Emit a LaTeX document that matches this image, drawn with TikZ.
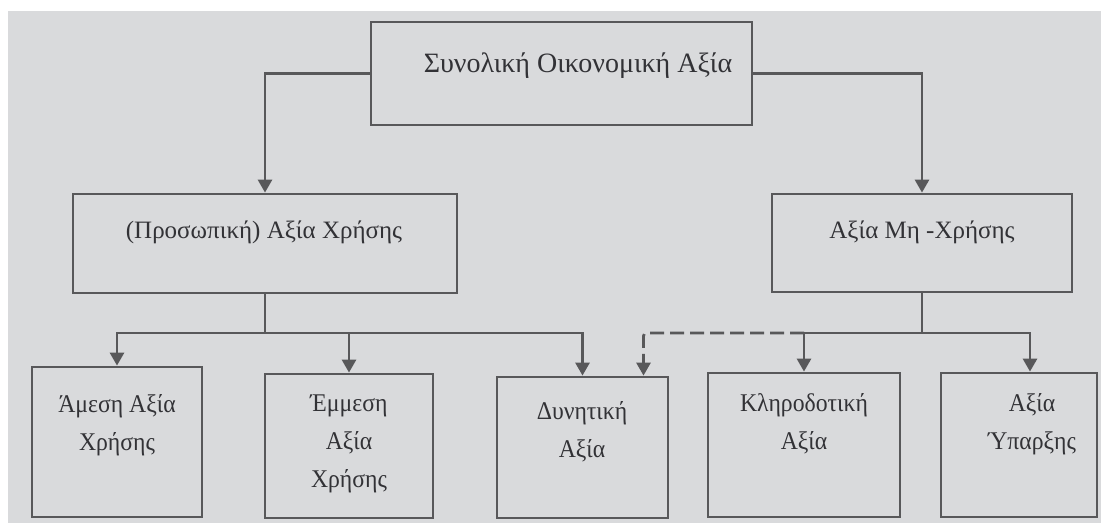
\documentclass[tikz,border=0pt]{standalone}
\usepackage{fontspec}
\setmainfont{Liberation Serif}
\newfontfamily\narrowserif[FakeStretch=0.93]{Liberation Serif}
\usetikzlibrary{arrows.meta}
\definecolor{paper}{RGB}{217,218,220}
\definecolor{ink}{RGB}{88,88,90}
\definecolor{txt}{RGB}{50,50,54}

\begin{document}
\begin{tikzpicture}[x=1pt,y=-1pt,
  box/.style={draw=ink,line width=2.8pt,inner sep=0pt},
  lbl/.style={text=txt,align=center,font=\fontsize{25}{38}\selectfont},
  sublbl/.style={lbl,font=\narrowserif\fontsize{25.5}{38}\selectfont},
  conn/.style={draw=ink,line width=2.8pt,-{Triangle[width=14pt,length=13pt]}},
  dconn/.style={conn,dash pattern=on 14pt off 6pt,rounded corners=3pt}]
% Page and scanned paper
\useasboundingbox (0,0) rectangle (1101,523);
\fill[white] (0,0) rectangle (1101,523);
\fill[paper] (8,11) rectangle (1101,523);

% Top level
\node[box,minimum width=381pt,minimum height=103pt] (tot) at (561.5,73.5) {};
\node[lbl,font=\fontsize{28}{38}\selectfont] (totl) at (578,66) {Συνολική Οικονομική Αξία};

% Second level
\node[box,minimum width=384pt,minimum height=99pt] (use) at (265,243.5) {};
\node[lbl] (usel) at (264,232) {(Προσωπική) Αξία Χρήσης};
\node[box,minimum width=300pt,minimum height=98pt] (non) at (922,243) {};
\node[lbl] (nonl) at (922,232) {Αξία Μη -Χρήσης};

% Third level
\node[box,minimum width=170pt,minimum height=150pt] (dir) at (117,442) {};
\node[sublbl] (dirl) at (117,425) {Άμεση Αξία\\Χρήσης};
\node[box,minimum width=168pt,minimum height=144pt] (ind) at (349,446) {};
\node[sublbl] (indl) at (349,444) {Έμμεση\\Αξία\\Χρήσης};
\node[box,minimum width=171pt,minimum height=141pt] (pot) at (582.5,447.5) {};
\node[sublbl] (potl) at (582,432) {Δυνητική\\Αξία};
\node[box,minimum width=192pt,minimum height=144pt] (beq) at (804,445) {};
\node[sublbl] (beql) at (804,424) {Κληροδοτική\\Αξία};
\node[box,minimum width=156pt,minimum height=144pt] (exi) at (1019,445) {};
\node[sublbl] (exil) at (1032,424) {Αξία\\Ύπαρξης};

% Junctions
\coordinate (uj) at (265,333);
\coordinate (nj) at (922,333);
\coordinate (bj) at (804,333);

% Connectors
\draw[conn] (tot.west) -| (use.north);
\draw[conn] (tot.east) -| (non.north);
\draw[draw=ink,line width=2.8pt] (use.south) -- (uj);
\draw[conn] (uj) -| (dir.north);
\draw[conn] (uj) -| (ind.north);
\draw[conn] (uj) -| (pot.north);
\draw[draw=ink,line width=2.8pt] (non.south) -- (nj);
\draw[conn] (nj) -| (beq.north);
\draw[conn] (nj) -| ([xshift=11pt]exi.north);
\draw[dconn] (bj) -| ([xshift=61pt]pot.north);
\end{tikzpicture}
\end{document}
